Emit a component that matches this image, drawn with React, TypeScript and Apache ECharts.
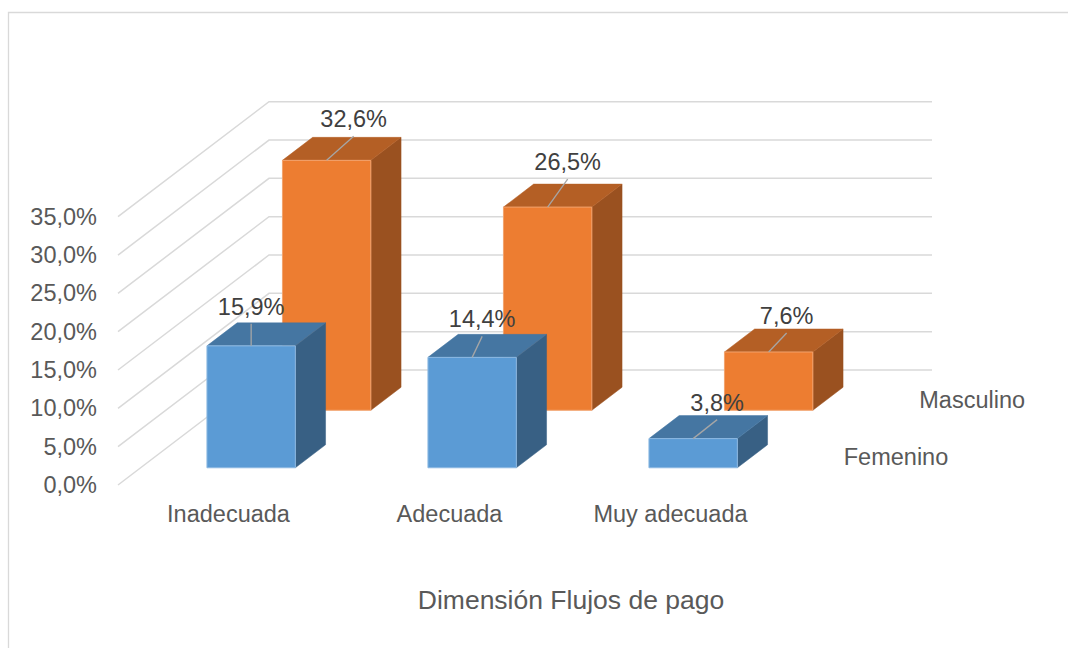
import React, { useEffect, useRef } from "react";
import * as echarts from "echarts";

// ---------- data ----------
const categories = ["Inadecuada", "Adecuada", "Muy adecuada"];
const seriesNames = ["Femenino", "Masculino"];
const femenino = [15.9, 14.4, 3.8];
const masculino = [32.6, 26.5, 7.6];
const yTicks = [0, 5, 10, 15, 20, 25, 30, 35];
const axisTitle = "Dimensión Flujos de pago";

// ---------- layout / style ----------
const DEPTH_X = 151;
const DEPTH_Y = -115;
const SLOT_CENTER = [0.25, 0.75];
const BOX_DEPTH = 0.2;
const BAR_WIDTH_RATIO = 0.4;
const LABEL_SHIFT = [
  [[0, -39], [10, -38], [24, -36]],
  [[27, -41], [20, -45], [18, -36]],
];
const FONT = "'Liberation Sans', Arial, Helvetica, sans-serif";
const palettes = [
  { front: "#5B9BD5", top: "#4576A2", side: "#386084", edge: "#8DB9E2" },
  { front: "#ED7D31", top: "#B45F25", side: "#9A5120", edge: "#F2A36E" },
];

const fmt = (v: number) => v.toFixed(1).replace(".", ",") + "%";

const makeBoxRenderer = (s: number) => (params: any, api: any) => {
  const cat = api.value(0);
  const val = api.value(1);
  const base = api.coord([cat, 0]);
  const topPt = api.coord([cat, val]);
  const band = api.size([1, 0])[0];
  const w = band * BAR_WIDTH_RATIO;
  const d0 = SLOT_CENTER[s] - BOX_DEPTH / 2;
  const ox = d0 * DEPTH_X;
  const oy = d0 * DEPTH_Y;
  const bx = BOX_DEPTH * DEPTH_X;
  const by = BOX_DEPTH * DEPTH_Y;
  const xl = base[0] - w / 2 + ox;
  const xr = base[0] + w / 2 + ox;
  const yb = base[1] + oy;
  const yt = topPt[1] + oy;
  const p = palettes[s];
  const cx = (xl + xr) / 2;
  const sh = LABEL_SHIFT[s][params.dataIndex];
  const lx = cx + sh[0];
  const ly = yt + sh[1];
  return {
    type: "group",
    children: [
      {
        type: "polygon",
        shape: { points: [[xr, yb], [xr + bx, yb + by], [xr + bx, yt + by], [xr, yt]] },
        style: { fill: p.side, stroke: p.side, lineWidth: 0.5 },
      },
      {
        type: "polygon",
        shape: { points: [[xl, yt], [xr, yt], [xr + bx, yt + by], [xl + bx, yt + by]] },
        style: { fill: p.top, stroke: p.top, lineWidth: 0.5 },
      },
      {
        type: "polygon",
        shape: { points: [[xl, yb], [xr, yb], [xr, yt], [xl, yt]] },
        style: { fill: p.front, stroke: p.edge, lineWidth: 1 },
      },
      {
        type: "line",
        shape: { x1: cx, y1: yt, x2: lx, y2: ly + 17 },
        style: { stroke: "#A6A6A6", lineWidth: 1.3, fill: "none" },
      },
      {
        type: "text",
        x: lx,
        y: ly,
        style: {
          text: fmt(val),
          fill: "#404040",
          fontSize: 23.5,
          fontFamily: FONT,
          align: "center",
          textAlign: "center",
          verticalAlign: "middle",
          textVerticalAlign: "middle",
        },
      },
    ],
  };
};

export default function App() {
  const ref = useRef<HTMLDivElement>(null);
  useEffect(() => {
    if (!ref.current) return;
    const chart = echarts.init(ref.current, undefined, { renderer: "svg" });
    chart.setOption({
      animation: false,
      backgroundColor: "#FFFFFF",
      grid: { left: 118, right: 287, top: 216.7, bottom: 163, containLabel: false },
      xAxis: {
        type: "category",
        data: categories,
        axisLine: { show: false },
        axisTick: { show: false },
        splitLine: { show: false },
        axisLabel: { margin: 17, fontSize: 23.5, color: "#595959", fontFamily: FONT },
      },
      yAxis: {
        type: "value",
        min: 0,
        max: 35,
        interval: 5,
        axisLine: { show: false },
        axisTick: { show: false },
        splitLine: { show: false },
        axisLabel: {
          margin: 21,
          fontSize: 23.5,
          color: "#595959",
          fontFamily: FONT,
          formatter: (v: number) => fmt(v),
        },
      },
      graphic: [
        {
          type: "rect",
          shape: { x: 8.5, y: 12.5, width: 1200, height: 800 },
          style: { fill: "none", stroke: "#D9D9D9", lineWidth: 1.3 },
          silent: true,
          z: -10,
        },
        {
          type: "text",
          x: 571,
          y: 600,
          style: {
            text: axisTitle,
            fill: "#595959",
            fontSize: 26.5,
            fontFamily: FONT,
            textAlign: "center",
            textVerticalAlign: "middle",
          },
          silent: true,
        },
      ],
      series: [
        {
          type: "custom",
          name: "grid3d",
          silent: true,
          data: yTicks.map((t) => [0, t]),
          renderItem: (params: any, api: any) => {
            const v = api.value(1);
            const y = api.coord([0, v])[1];
            const x0 = params.coordSys.x;
            const x1 = x0 + params.coordSys.width;
            return {
              type: "polyline",
              shape: {
                points: [
                  [x0, y],
                  [x0 + DEPTH_X, y + DEPTH_Y],
                  [x1 + DEPTH_X, y + DEPTH_Y],
                ],
              },
              style: { stroke: "#D9D9D9", lineWidth: 1.5, fill: "none" },
            };
          },
        },
        {
          type: "custom",
          name: "depthLabels",
          silent: true,
          data: seriesNames.map(() => [0, 0]),
          renderItem: (params: any, api: any) => {
            const cs = params.coordSys;
            const s = params.dataIndex;
            const y0 = api.coord([0, 0])[1];
            const xr = cs.x + cs.width;
            const d = SLOT_CENTER[s];
            return {
              type: "text",
              x: xr + d * DEPTH_X + 25,
              y: y0 + d * DEPTH_Y + 1,
              style: {
                text: seriesNames[s],
                fill: "#595959",
                fontSize: 23.5,
                fontFamily: FONT,
                align: "left",
                textAlign: "left",
                verticalAlign: "middle",
                textVerticalAlign: "middle",
              },
            };
          },
        },
        {
          type: "custom",
          name: seriesNames[1],
          silent: true,
          data: masculino.map((v, i) => [i, v]),
          renderItem: makeBoxRenderer(1),
        },
        {
          type: "custom",
          name: seriesNames[0],
          silent: true,
          data: femenino.map((v, i) => [i, v]),
          renderItem: makeBoxRenderer(0),
        },
      ],
    });
    return () => chart.dispose();
  }, []);
  return (
    <div
      ref={ref}
      style={{ position: "fixed", left: 0, top: 0, width: 1068, height: 648 }}
    />
  );
}
